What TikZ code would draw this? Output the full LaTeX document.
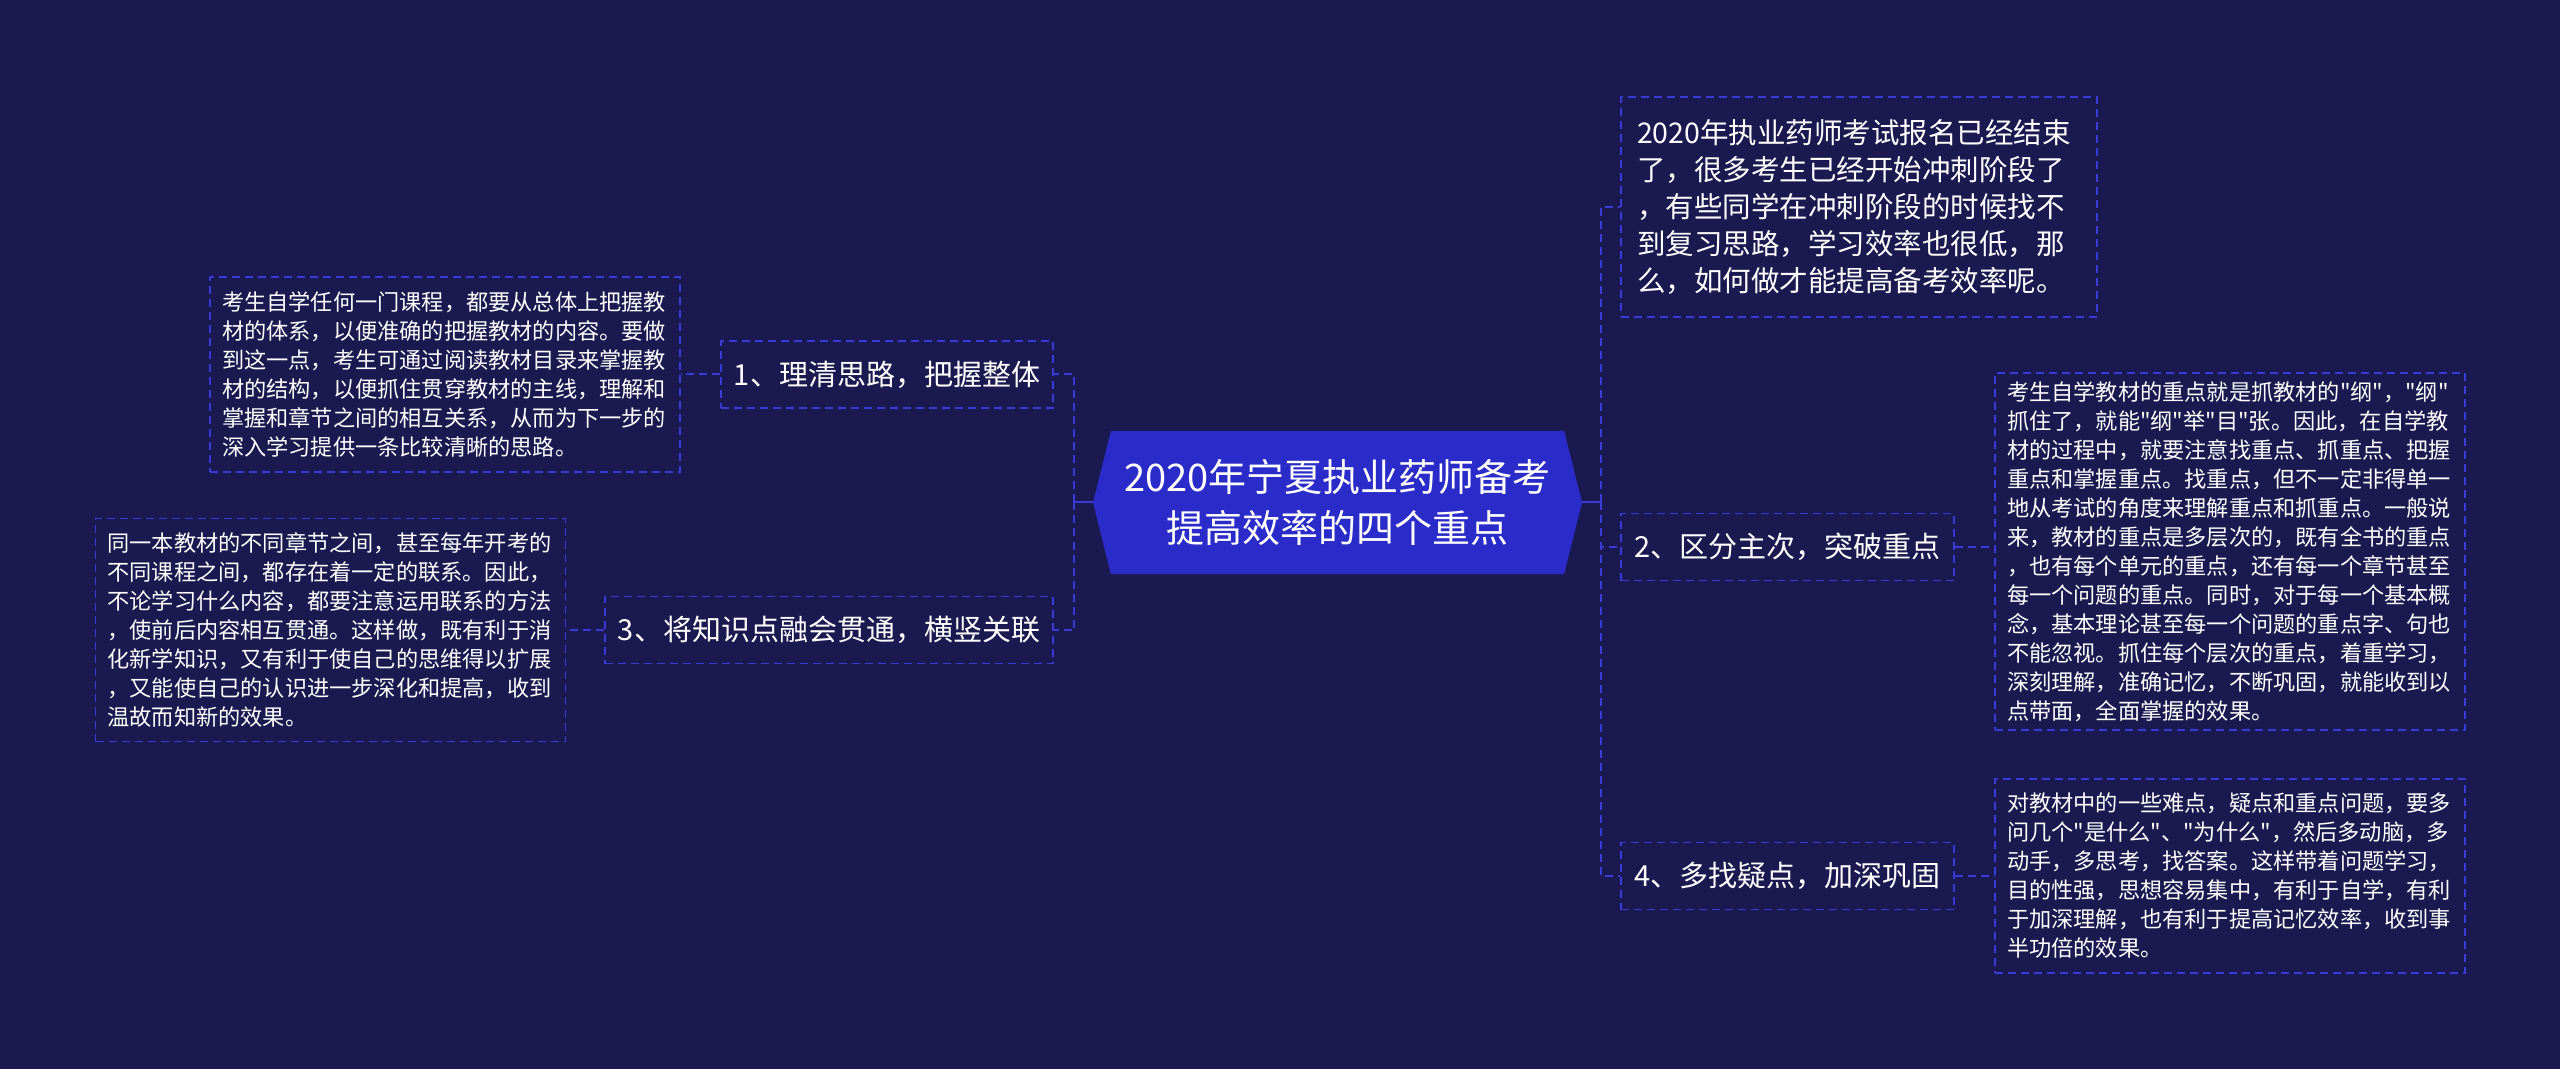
\documentclass[tikz,border=0pt]{standalone}
\usepackage{fontspec}
\setmainfont{Noto Sans CJK SC}[Ligatures=TeXOff]
\usetikzlibrary{shapes.symbols}

\definecolor{mapbg}{HTML}{1A1A50}
\definecolor{rootblue}{HTML}{2B2BC9}
\definecolor{linkblue}{HTML}{3A3AD6}

\tikzset{
  rootshape/.style={signal, signal to=west and east, signal pointer angle=152,
    fill=rootblue, text=white, inner sep=0pt, align=center,
    minimum width=244.5pt, minimum height=71.5pt,
    font=\fontsize{19}{25.5}\selectfont},
  dashbox/.style={draw=linkblue, line width=0.65pt, dash pattern=on 4pt off 2.5pt, text=white},
  topicbox/.style={dashbox, inner sep=0pt, minimum height=33.5pt,
    font=\fontsize{14.5}{18}\selectfont},
  notebox/.style={dashbox, inner xsep=6pt, inner ysep=0pt, text width=223pt, align=left,
    font=\fontsize{11.1}{14.5}\selectfont},
  link/.style={draw=linkblue, line width=1pt, dash pattern=on 4pt off 2.5pt},
}

\begin{document}
\begin{tikzpicture}[x=0.5pt, y=-0.5pt]

% Background
\fill[mapbg] (0,0) rectangle (2560,1069);

% Central topic
\node[rootshape] (root) at (1337.5,502.5) {2020年宁夏执业药师备考\\提高效率的四个重点};

% Left branch
\node[topicbox, minimum width=166pt] (n1) at (887,374.5) {1、理清思路，把握整体};
\node[topicbox, minimum width=224pt] (n3) at (829,630) {3、将知识点融会贯通，横竖关联};

\node[notebox, minimum height=97.5pt] (d1) at (445,374.5) {考生自学任何一门课程，都要从总体上把握教\\材的体系，以便准确的把握教材的内容。要做\\到这一点，考生可通过阅读教材目录来掌握教\\材的结构，以便抓住贯穿教材的主线，理解和\\掌握和章节之间的相互关系，从而为下一步的\\深入学习提供一条比较清晰的思路。};
\node[notebox, minimum height=111.5pt] (d3) at (330.5,630) {同一本教材的不同章节之间，甚至每年开考的\\不同课程之间，都存在着一定的联系。因此，\\不论学习什么内容，都要注意运用联系的方法\\，使前后内容相互贯通。这样做，既有利于消\\化新学知识，又有利于使自己的思维得以扩展\\，又能使自己的认识进一步深化和提高，收到\\温故而知新的效果。};

% Right branch
\node[dashbox, inner xsep=8pt, inner ysep=0pt, text width=222pt, align=left,
  minimum height=110pt, font=\fontsize{14.25}{18.5}\selectfont] (intro) at (1859,207)
  {2020年执业药师考试报名已经结束\\了，很多考生已经开始冲刺阶段了\\，有些同学在冲刺阶段的时候找不\\到复习思路，学习效率也很低，那\\么，如何做才能提高备考效率呢。};
\node[topicbox, minimum width=166.5pt] (n2) at (1787.5,547) {2、区分主次，突破重点};
\node[topicbox, minimum width=166.5pt] (n4) at (1787.5,876) {4、多找疑点，加深巩固};

\node[notebox, minimum height=178.5pt] (d2) at (2230,551.5) {考生自学教材的重点就是抓教材的"纲"，"纲"\\抓住了，就能"纲"举"目"张。因此，在自学教\\材的过程中，就要注意找重点、抓重点、把握\\重点和掌握重点。找重点，但不一定非得单一\\地从考试的角度来理解重点和抓重点。一般说\\来，教材的重点是多层次的，既有全书的重点\\，也有每个单元的重点，还有每一个章节甚至\\每一个问题的重点。同时，对于每一个基本概\\念，基本理论甚至每一个问题的重点字、句也\\不能忽视。抓住每个层次的重点，着重学习，\\深刻理解，准确记忆，不断巩固，就能收到以\\点带面，全面掌握的效果。};
\node[notebox, minimum height=97pt] (d4) at (2230,876) {对教材中的一些难点，疑点和重点问题，要多\\问几个"是什么"、"为什么"，然后多动脑，多\\动手，多思考，找答案。这样带着问题学习，\\目的性强，思想容易集中，有利于自学，有利\\于加深理解，也有利于提高记忆效率，收到事\\半功倍的效果。};

% Connectors from the central topic
\coordinate (lj) at (1074,502.5);
\coordinate (rj) at (1601,502.5);
\draw[linkblue, line width=1pt] (root.west) -- (lj);
\draw[linkblue, line width=1pt] (root.east) -- (rj);
\draw[link] (lj) |- (n1.east);
\draw[link] (lj) |- (n3.east);
\draw[link] (rj) |- (intro.west);
\draw[link] (rj) |- (n2.west);
\draw[link] (rj) |- (n4.west);

% Topics to their notes
\draw[link] (n1.west) -- (d1.east);
\draw[link] (n3.west) -- (d3.east);
\draw[link] (n2.east) -- (n2.east -| d2.west);
\draw[link] (n4.east) -- (d4.west);

\end{tikzpicture}
\end{document}
